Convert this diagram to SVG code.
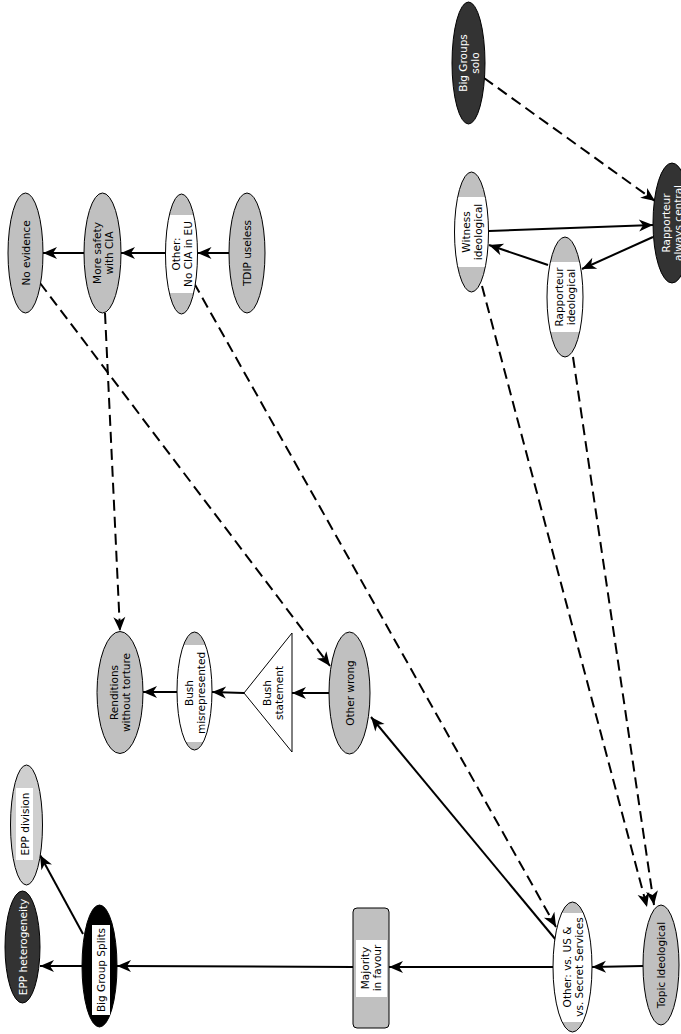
<svg xmlns="http://www.w3.org/2000/svg" width="681" height="1034" viewBox="0 0 681 1034">
<style>
.n{stroke:#000;stroke-width:1}
.g{fill:#c0c0c0}
.d{fill:#333333}
.k{fill:#000}
.w{fill:#fff}
text{font-family:"DejaVu Sans",sans-serif;font-size:10.5px;text-anchor:middle;dominant-baseline:central}
.tw{fill:#fff}
.tb{fill:#000}
.e{fill:none;stroke:#000;stroke-width:2;marker-end:url(#ah)}
.ds{stroke-dasharray:11,6}
</style>
<defs>
<marker id="ah" markerUnits="userSpaceOnUse" markerWidth="16" markerHeight="14" refX="14" refY="6.5" orient="auto" overflow="visible">
<path d="M14,6.5 L0,0.5 L4,6.5 L0,12.5 Z" fill="#000"/>
</marker>
<clipPath id="c3"><ellipse cx="181.5" cy="254" rx="16" ry="60"/></clipPath>
<clipPath id="c6"><ellipse cx="471.5" cy="232" rx="17" ry="60"/></clipPath>
<clipPath id="c7"><ellipse cx="565" cy="297" rx="18" ry="60"/></clipPath>
<clipPath id="c10"><ellipse cx="572.5" cy="967" rx="19.5" ry="65"/></clipPath>
<clipPath id="c14"><ellipse cx="194.5" cy="691" rx="17.5" ry="59"/></clipPath>
</defs>

<g id="edges">
<path class="e" d="M229,253 L197.5,253"/>
<path class="e" d="M165.5,253 L121,253"/>
<path class="e" d="M84,253 L43,253"/>
<path class="e ds" d="M105,313 L120,631"/>
<path class="e ds" d="M40,283 L330,666"/>
<path class="e ds" d="M194,283 L556,927"/>
<path class="e ds" d="M482,286 L647,907"/>
<path class="e ds" d="M573,357 L654,905"/>
<path class="e ds" d="M484,78 L655,201"/>
<path class="e" d="M489,231 L653,225"/>
<path class="e" d="M653,237 L582,269"/>
<path class="e" d="M548,265 L489,245"/>
<path class="e" d="M643,966 L592,967"/>
<path class="e" d="M553,967 L389,967"/>
<path class="e" d="M556,940 L371,717"/>
<path class="e" d="M353,967 L117,966"/>
<path class="e" d="M82,966 L40,966"/>
<path class="e" d="M83,934 L40,855"/>
<path class="e" d="M329,693 L292,693"/>
<path class="e" d="M244,693 L212,692"/>
<path class="e" d="M177,692 L143,692"/>
</g>

<g id="n-no-evidence">
<ellipse class="n g" cx="25.5" cy="253" rx="17.5" ry="60"/>
<text class="tb" transform="translate(25.5,253) rotate(-90)">No evidence</text>
</g>
<g id="n-more-safety">
<ellipse class="n g" cx="102.5" cy="253" rx="18.5" ry="60"/>
<text class="tb" transform="translate(102.5,253) rotate(-90)"><tspan x="0" y="-6">More safety</tspan><tspan x="0" y="6">with CIA</tspan></text>
</g>
<g id="n-other-no-cia">
<ellipse class="g" cx="181.5" cy="254" rx="16" ry="60"/>
<rect class="w" x="165" y="215" width="33" height="78" clip-path="url(#c3)"/>
<ellipse class="n" fill="none" cx="181.5" cy="254" rx="16" ry="60"/>
<text class="tb" transform="translate(181.5,254) rotate(-90)"><tspan x="0" y="-6">Other:</tspan><tspan x="0" y="6">No CIA in EU</tspan></text>
</g>
<g id="n-tdip">
<ellipse class="n g" cx="247" cy="253" rx="18" ry="60"/>
<text class="tb" transform="translate(247,253) rotate(-90)">TDIP useless</text>
</g>
<g id="n-big-groups-solo">
<ellipse class="n d" cx="468.5" cy="63" rx="16.5" ry="61"/>
<text class="tw" transform="translate(468.5,63) rotate(-90)"><tspan x="0" y="-6">Big Groups</tspan><tspan x="0" y="6">solo</tspan></text>
</g>
<g id="n-witness">
<ellipse class="g" cx="471.5" cy="232" rx="17" ry="60"/>
<rect class="w" x="454" y="197" width="35" height="70" clip-path="url(#c6)"/>
<ellipse class="n" fill="none" cx="471.5" cy="232" rx="17" ry="60"/>
<text class="tb" transform="translate(471.5,232) rotate(-90)"><tspan x="0" y="-6">Witness</tspan><tspan x="0" y="6">ideological</tspan></text>
</g>
<g id="n-rapporteur-ideological">
<ellipse class="g" cx="565" cy="297" rx="18" ry="60"/>
<rect class="w" x="547" y="262" width="36" height="70" clip-path="url(#c7)"/>
<ellipse class="n" fill="none" cx="565" cy="297" rx="18" ry="60"/>
<text class="tb" transform="translate(565,297) rotate(-90)"><tspan x="0" y="-6">Rapporteur</tspan><tspan x="0" y="6">ideological</tspan></text>
</g>
<g id="n-rapporteur-central">
<ellipse class="n d" cx="672" cy="223" rx="19" ry="60"/>
<text class="tw" transform="translate(672,223) rotate(-90)"><tspan x="0" y="-6">Rapporteur</tspan><tspan x="0" y="6">always central</tspan></text>
</g>
<g id="n-topic-ideological">
<ellipse class="n g" cx="661" cy="965" rx="18" ry="60"/>
<text class="tb" transform="translate(661,965) rotate(-90)">Topic Ideological</text>
</g>
<g id="n-other-vs-us">
<ellipse class="g" cx="572.5" cy="967" rx="19.5" ry="65"/>
<rect class="w" x="553" y="913" width="39" height="109" clip-path="url(#c10)"/>
<ellipse class="n" fill="none" cx="572.5" cy="967" rx="19.5" ry="65"/>
<text class="tb" transform="translate(572.5,967) rotate(-90)"><tspan x="0" y="-6">Other: vs. US &amp;</tspan><tspan x="0" y="6">vs. Secret Services</tspan></text>
</g>
<g id="n-majority">
<rect class="n g" x="353" y="908" width="36" height="120" rx="4"/>
<rect class="w" x="356" y="940" width="31" height="57"/>
<text class="tb" transform="translate(371,968) rotate(-90)"><tspan x="0" y="-6">Majority</tspan><tspan x="0" y="6">in favour</tspan></text>
</g>
<g id="n-other-wrong">
<ellipse class="n g" cx="349.5" cy="693" rx="20.5" ry="61"/>
<text class="tb" transform="translate(349.5,693) rotate(-90)">Other wrong</text>
</g>
<g id="n-bush-statement">
<polygon class="n w" points="244,693 292,633 292,752"/>
<text class="tb" transform="translate(272.5,693) rotate(-90)"><tspan x="0" y="-6">Bush</tspan><tspan x="0" y="6">statement</tspan></text>
</g>
<g id="n-bush-misrepresented">
<ellipse class="g" cx="194.5" cy="691" rx="17.5" ry="59"/>
<rect class="w" x="177" y="645" width="35" height="97" clip-path="url(#c14)"/>
<ellipse class="n" fill="none" cx="194.5" cy="691" rx="17.5" ry="59"/>
<text class="tb" transform="translate(194.5,693) rotate(-90)"><tspan x="0" y="-6">Bush</tspan><tspan x="0" y="6">misrepresented</tspan></text>
</g>
<g id="n-renditions">
<ellipse class="n g" cx="120" cy="692.5" rx="23" ry="61"/>
<text class="tb" transform="translate(120,692.5) rotate(-90)"><tspan x="0" y="-6">Renditions</tspan><tspan x="0" y="6">without torture</tspan></text>
</g>
<g id="n-big-group-splits">
<ellipse class="n k" cx="99.5" cy="966" rx="17.5" ry="61"/>
<rect class="w" x="92" y="925" width="18" height="90"/>
<text class="tb" transform="translate(101,970) rotate(-90)">Big Group Splits</text>
</g>
<g id="n-epp-heterogeneity">
<ellipse class="n d" cx="22.5" cy="947" rx="17.5" ry="56"/>
<text class="tw" transform="translate(22.5,947) rotate(-90)">EPP heterogeneity</text>
</g>
<g id="n-epp-division">
<ellipse class="n" fill="#cfcfcf" cx="26.5" cy="825" rx="16" ry="60"/>
<rect class="w" x="16" y="788" width="17" height="72"/>
<text class="tb" transform="translate(25,824) rotate(-90)">EPP division</text>
</g>
</svg>
